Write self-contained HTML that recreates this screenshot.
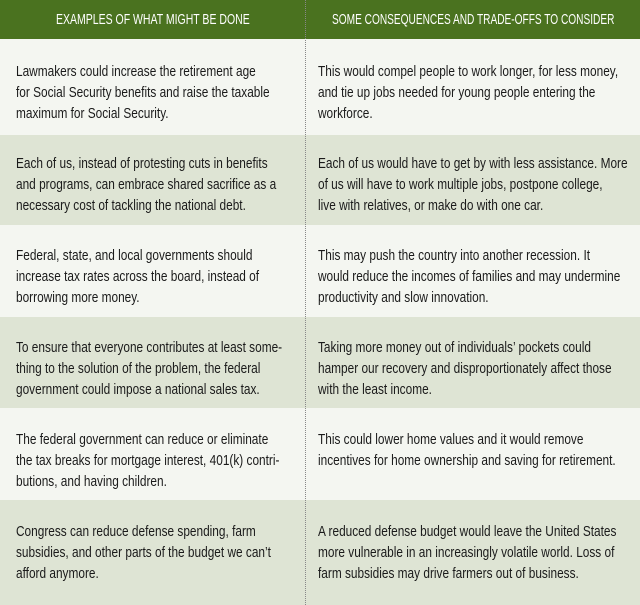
<!DOCTYPE html>
<html><head><meta charset="utf-8"><style>
body{margin:0;width:640px;height:605px;overflow:hidden;background:#f4f6f1;font-family:"Liberation Sans",sans-serif;}
.r{position:absolute;left:0;width:640px;}
.w{background:#f4f6f1}.g{background:#dee4d4}
.hd{position:absolute;top:0;left:0;width:640px;height:39px;background:#4a721f;}
.ht{position:absolute;top:11px;color:#fff;font-size:15px;white-space:nowrap;transform:scaleX(0.70);transform-origin:0 0;}
.t{position:absolute;font-size:15px;line-height:21px;color:#1a1a1a;white-space:nowrap;transform:scaleX(0.79);transform-origin:0 0;}
.div{position:absolute;left:305px;top:0;height:605px;border-left:1px dotted #888;}
</style></head><body>
<div class="hd"></div>
<div class="ht" style="left:56px">EXAMPLES OF WHAT MIGHT BE DONE</div>
<div class="ht" style="left:332px;transform:scaleX(0.675)">SOME CONSEQUENCES AND TRADE-OFFS TO CONSIDER</div>
<div class="r w" style="top:39px;height:96px"></div>
<div class="r g" style="top:135px;height:90px"></div>
<div class="r w" style="top:225px;height:92px"></div>
<div class="r g" style="top:317px;height:91px"></div>
<div class="r w" style="top:408px;height:92px"></div>
<div class="r g" style="top:500px;height:105px"></div>
<div class="div"></div>

<div class="t" style="left:16px;top:61px">Lawmakers could increase the retirement age<br>for Social Security benefits and raise the taxable<br>maximum for Social Security.</div>
<div class="t" style="left:318px;top:61px">This would compel people to work longer, for less money,<br>and tie up jobs needed for young people entering the<br>workforce.</div>

<div class="t" style="left:16px;top:153px">Each of us, instead of protesting cuts in benefits<br>and programs, can embrace shared sacrifice as a<br>necessary cost of tackling the national debt.</div>
<div class="t" style="left:318px;top:153px">Each of us would have to get by with less assistance. More<br>of us will have to work multiple jobs, postpone college,<br>live with relatives, or make do with one car.</div>

<div class="t" style="left:16px;top:245px">Federal, state, and local governments should<br>increase tax rates across the board, instead of<br>borrowing more money.</div>
<div class="t" style="left:318px;top:245px">This may push the country into another recession. It<br>would reduce the incomes of families and may undermine<br>productivity and slow innovation.</div>

<div class="t" style="left:16px;top:337px">To ensure that everyone contributes at least some-<br>thing to the solution of the problem, the federal<br>government could impose a national sales tax.</div>
<div class="t" style="left:318px;top:337px">Taking more money out of individuals’ pockets could<br>hamper our recovery and disproportionately affect those<br>with the least income.</div>

<div class="t" style="left:16px;top:429px">The federal government can reduce or eliminate<br>the tax breaks for mortgage interest, 401(k) contri-<br>butions, and having children.</div>
<div class="t" style="left:318px;top:429px">This could lower home values and it would remove<br>incentives for home ownership and saving for retirement.</div>

<div class="t" style="left:16px;top:521px">Congress can reduce defense spending, farm<br>subsidies, and other parts of the budget we can’t<br>afford anymore.</div>
<div class="t" style="left:318px;top:521px">A reduced defense budget would leave the United States<br>more vulnerable in an increasingly volatile world. Loss of<br>farm subsidies may drive farmers out of business.</div>
</body></html>
